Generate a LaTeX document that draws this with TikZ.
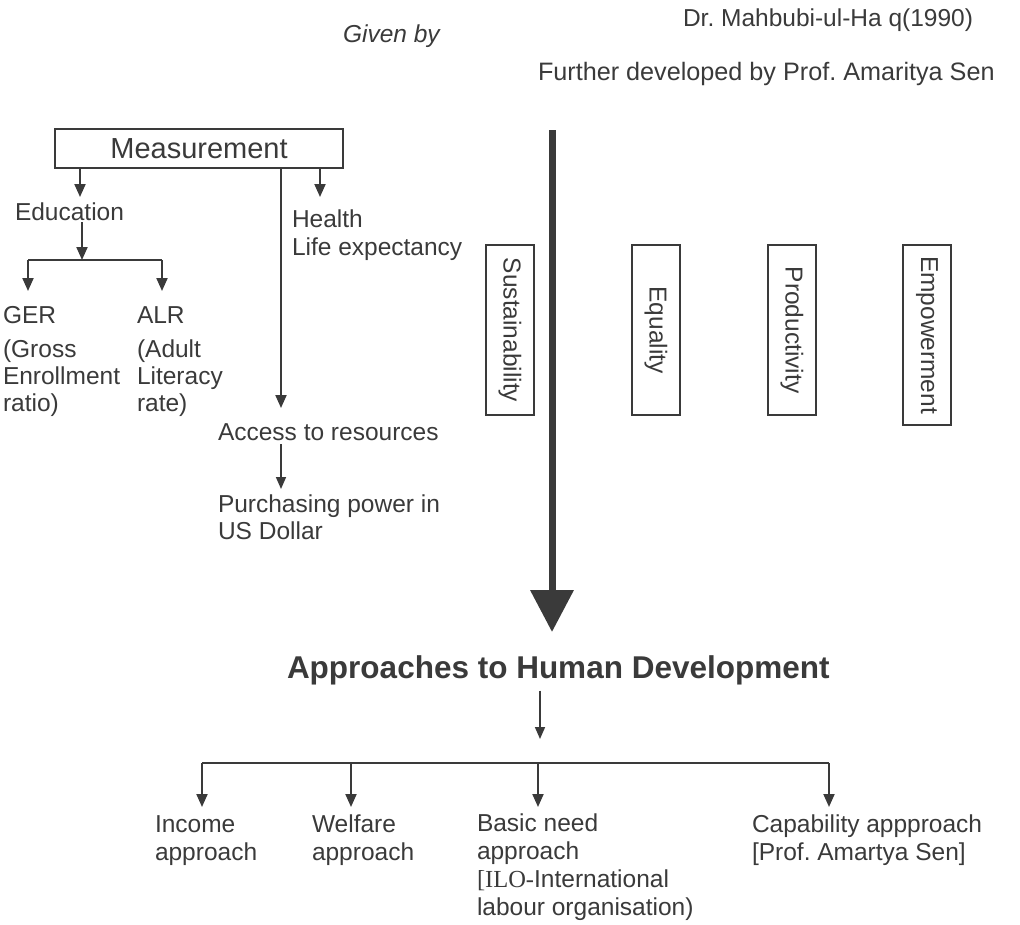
\documentclass[tikz,border=0pt]{standalone}
\usepackage{fontspec}
\setmainfont{Liberation Sans}
\newfontfamily\serifrm{Liberation Serif}
\usetikzlibrary{arrows.meta}
\definecolor{ink}{HTML}{3A3A3A}
\frenchspacing
\begin{document}
\begin{tikzpicture}[x=1pt,y=-1pt,
  txt/.style={inner sep=0pt, outer sep=0pt, text=ink, font=\fontsize{24.5}{28}\selectfont, anchor=base west, align=left},
  arr/.style={draw=ink, line width=2pt, -{Triangle[width=11pt,length=13pt]}},
  thinarr/.style={draw=ink, line width=1.6pt, -{Triangle[width=10pt,length=12pt]}},
  bigarr/.style={draw=ink, line width=7pt, -{Triangle[width=42pt,length=42pt]}},
  ln/.style={draw=ink, line width=2pt},
  vbox/.style={draw=ink, line width=1.8pt, rotate=-90, minimum height=48pt, inner sep=0pt, text=ink, font=\fontsize{24.5}{28}\selectfont},
]
\useasboundingbox (0,0) rectangle (1020,924);

% header (multi-line nodes are anchored at the baseline of their last line)
\node[txt] (dr) at (683,26) {Dr. Mahbubi-ul-Ha q(1990)};
\node[txt, font=\fontsize{24.5}{28}\itshape] (given) at (343,42) {Given by};
\node[txt, font=\fontsize{25.2}{28}\selectfont] (further) at (538,80) {Further developed by Prof. Amaritya Sen};

% measurement
\node[draw=ink, line width=1.8pt, minimum width=288pt, minimum height=39pt, inner sep=0pt, text=ink, font=\fontsize{29}{32}\selectfont] (meas) at (199,148.5) {Measurement};

\coordinate (eduTip) at (80,197);
\coordinate (healthTip) at (320,197);
\coordinate (accTip) at (281,408);
\draw[arr] (meas.south -| eduTip) -- (eduTip);
\draw[arr] (meas.south -| healthTip) -- (healthTip);
\draw[arr] (meas.south -| accTip) -- (accTip);

\node[txt] (edu) at (15,220) {Education};
\node[txt] (health) at (292,255) {Health\\Life expectancy};

\coordinate (eduJ) at (82,260);
\coordinate (gerJ) at (28,260);
\coordinate (alrJ) at (162,260);
\coordinate (gerTip) at (28,291);
\coordinate (alrTip) at (162,291);
\draw[arr] (eduJ |- edu.south) ++(0,2) -- (eduJ);
\draw[ln] (gerJ) -- (alrJ);
\draw[arr] (gerJ) -- (gerTip);
\draw[arr] (alrJ) -- (alrTip);

\node[txt] (ger) at (3,323) {GER};
\node[txt, font=\fontsize{24.5}{27}\selectfont] (gerx) at (3,411) {(Gross\\Enrollment\\ratio)};
\node[txt] (alr) at (137,323) {ALR};
\node[txt, font=\fontsize{24.5}{27}\selectfont] (alrx) at (137,411) {(Adult\\Literacy\\rate)};

\node[txt] (acc) at (218,440) {Access to resources};
\coordinate (ppTip) at (281,489);
\draw[thinarr] (acc.south -| ppTip) ++(0,4) -- (ppTip);
\node[txt, font=\fontsize{24.5}{27}\selectfont] (pp) at (218,539) {Purchasing power in\\US Dollar};

% vertical boxes
\node[vbox, minimum width=170pt] (sus) at (510,330) {Sustainability};
\node[vbox, minimum width=170pt] (equ) at (656,330) {Equality};
\node[vbox, minimum width=170pt] (pro) at (792,330) {Productivity};
\node[vbox, minimum width=180pt] (emp) at (927,335) {Empowerment};

% big arrow
\coordinate (bigTop) at (552,130);
\coordinate (bigTip) at (552,632);
\draw[bigarr] (bigTop) -- (bigTip);

% title
\node[txt, font=\bfseries\fontsize{31.5}{36}\selectfont] (title) at (287,678) {Approaches to Human Development};
\coordinate (tTip) at (540,739);
\draw[thinarr] (title.south -| tTip) ++(0,6) -- (tTip);

% bottom branches
\coordinate (b1) at (202,763);
\coordinate (b2) at (351,763);
\coordinate (b3) at (538,763);
\coordinate (b4) at (829,763);
\draw[ln] (b1) -- (b4);
\coordinate (t1) at (202,807);
\coordinate (t2) at (351,807);
\coordinate (t3) at (538,807);
\coordinate (t4) at (829,807);
\draw[arr] (b1) -- (t1);
\draw[arr] (b2) -- (t2);
\draw[arr] (b3) -- (t3);
\draw[arr] (b4) -- (t4);

\node[txt] (inc) at (155,860) {Income\\approach};
\node[txt] (wel) at (312,860) {Welfare\\approach};
\node[txt, font=\fontsize{24.5}{27.7}\selectfont] (bas) at (477,915) {Basic need\\approach\\{\serifrm [ILO-}International\\labour organisation)};
\node[txt] (cap) at (752,860) {Capability appproach\\{}[Prof. Amartya Sen]};
\end{tikzpicture}
\end{document}
